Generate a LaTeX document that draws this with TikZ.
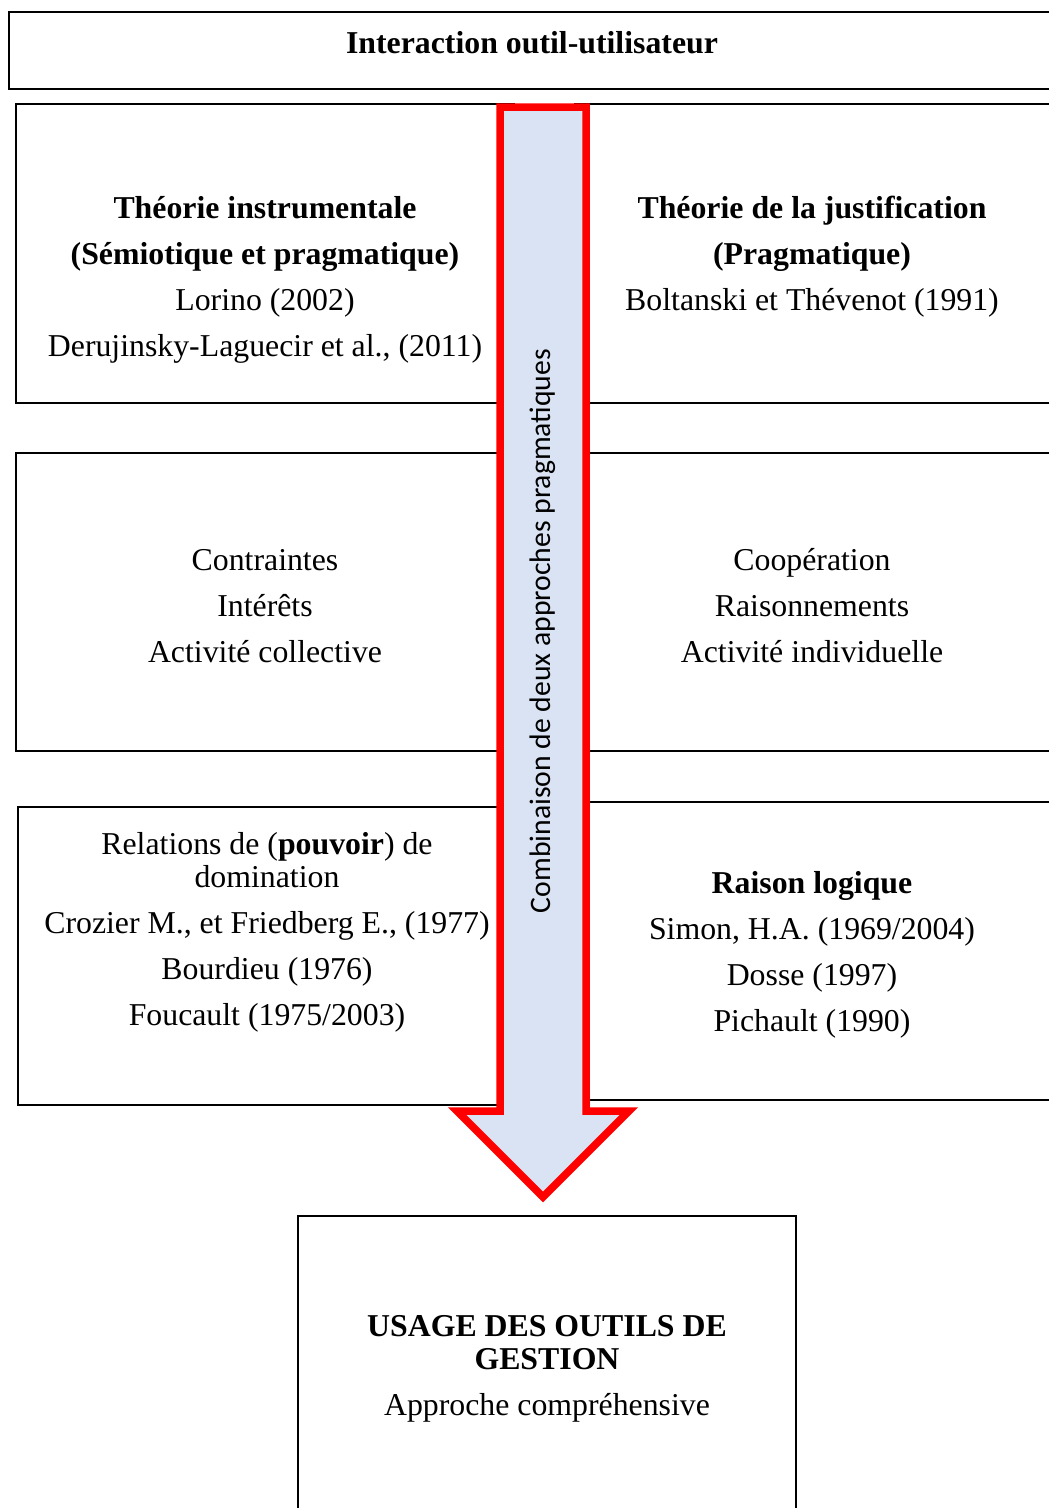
\documentclass[tikz,border=0pt]{standalone}
\usepackage{fontspec}
\setmainfont{Liberation Serif}
\newfontfamily\carlitofont{Carlito}
\tikzset{
  frame/.style={draw=black, line width=2.6pt},
  txt/.style={align=center, inner sep=0pt, font=\fontsize{31.8}{46}\selectfont},
  bigarrow/.style={draw=red, line width=7.5pt, fill={rgb,255:red,218;green,227;blue,243}, miter limit=10},
  rottxt/.style={inner sep=0pt, rotate=90, font=\carlitofont\fontsize{29.7}{36}\selectfont}
}
\begin{document}
\begin{tikzpicture}[x=1pt,y=-1pt]
\useasboundingbox (0,0) rectangle (1049,1508);
\clip (0,0) rectangle (1049,1508);
% frames
\draw[frame] (9,12) rectangle (1070,89);
\draw[frame] (16,104) rectangle (514,403);
\draw[frame] (575,104) rectangle (1070,403);
\draw[frame] (16,453) rectangle (514,751);
\draw[frame] (575,453) rectangle (1070,751);
\draw[frame] (18,807) rectangle (514,1105);
\draw[frame] (575,802) rectangle (1070,1100);
\draw[frame] (298,1216) rectangle (796,1530);
% texts
\node[txt, font=\fontsize{31.8}{46}\selectfont\bfseries] (title) at (532,43) {Interaction outil-utilisateur};
\node[txt] (r1l) at (265,280) {\textbf{Théorie instrumentale}\\\textbf{(Sémiotique et pragmatique)}\\Lorino (2002)\\Derujinsky-Laguecir et al., (2011)};
\node[txt] (r1r) at (812,257) {\textbf{Théorie de la justification}\\\textbf{(Pragmatique)}\\Boltanski et Thévenot (1991)};
\node[txt] (r2l) at (265,606) {Contraintes\\Intérêts\\Activité collective};
\node[txt] (r2r) at (812,606) {Coopération\\Raisonnements\\Activité individuelle};
\node[txt] (r3l) at (267,932) {Relations de (\textbf{pouvoir}) de\\[-13pt]domination\\Crozier M., et Friedberg E., (1977)\\Bourdieu (1976)\\Foucault (1975/2003)};
\node[txt] (r3r) at (812,955) {\textbf{Raison logique}\\Simon, H.A. (1969/2004)\\Dosse (1997)\\Pichault (1990)};
% arrow
\draw[bigarrow] (500,107) -- (586,107) -- (586,1111) -- (629,1111) -- (543,1197) -- (457,1111) -- (500,1111) -- cycle;
\node[rottxt] (comb) at (543,631) {Combinaison de deux approches pragmatiques};
\node[txt] (usage) at (547,1369) {\textbf{USAGE DES OUTILS DE}\\[-13pt]\textbf{GESTION}\\Approche compréhensive};
\end{tikzpicture}
\end{document}
